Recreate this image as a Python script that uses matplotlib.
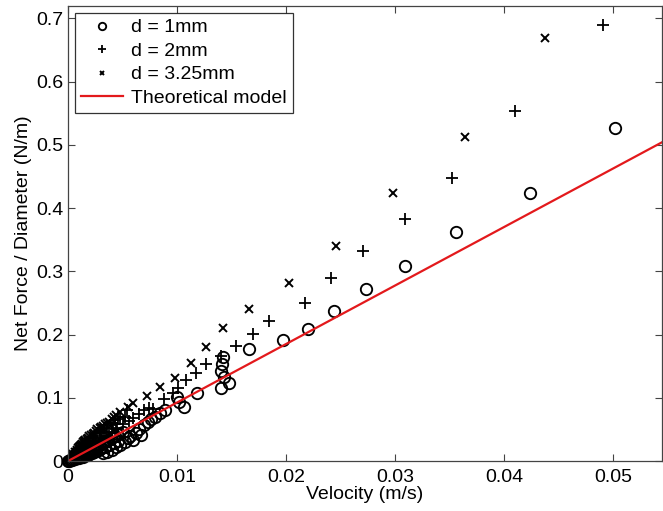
import numpy as np
import matplotlib
matplotlib.use("Agg")
import matplotlib.pyplot as plt

plt.rcParams["font.family"] = ["Liberation Sans", "DejaVu Sans"]

# d = 1mm (circles)
v_1mm = [0.0, 0.0002, 0.0004, 0.0006, 0.0008, 0.0010, 0.0012, 0.0014, 0.0016, 0.0018,
         0.0020, 0.0022, 0.0024, 0.0026, 0.0028, 0.0030, 0.0032, 0.0034, 0.0036, 0.0038,
         0.0040, 0.0042, 0.0044, 0.0046, 0.0048, 0.0050, 0.0052, 0.0055, 0.0057, 0.0060,
         0.0062, 0.0065, 0.0067, 0.0070, 0.0073, 0.0076, 0.0080, 0.0084, 0.0089, 0.0100,
         0.0102, 0.0106, 0.0118, 0.0142, 0.0141, 0.0140, 0.0143, 0.0148, 0.0140, 0.0166,
         0.0197, 0.0220, 0.0244, 0.0273, 0.0309, 0.0356, 0.0424, 0.0502]
f_1mm = [0.0, 0.001, 0.002, 0.003, 0.004, 0.005, 0.006, 0.007, 0.009, 0.010,
         0.012, 0.013, 0.015, 0.016, 0.018, 0.020, 0.012, 0.022, 0.015, 0.025,
         0.018, 0.028, 0.022, 0.032, 0.026, 0.046, 0.030, 0.036, 0.040, 0.033,
         0.045, 0.050, 0.041, 0.057, 0.062, 0.066, 0.070, 0.076, 0.081, 0.101,
         0.093, 0.085, 0.107, 0.164, 0.153, 0.142, 0.133, 0.123, 0.115, 0.177,
         0.191, 0.208, 0.237, 0.272, 0.308, 0.362, 0.423, 0.526]
# extra 1mm runs packed near the origin
v_1mm_low = [0.0001, 0.0003, 0.0005, 0.0007, 0.0009, 0.0011, 0.0013, 0.0015, 0.0017, 0.0019,
             0.0021, 0.0023, 0.0025, 0.0027, 0.0029, 0.0031, 0.0033, 0.0035, 0.0037, 0.0039,
             0.0041, 0.0043, 0.0045]
f_1mm_low = [0.0005, 0.0015, 0.0025, 0.004, 0.006, 0.008, 0.010, 0.012, 0.014, 0.016,
             0.018, 0.020, 0.022, 0.024, 0.026, 0.028, 0.030, 0.032, 0.034, 0.036,
             0.038, 0.040, 0.042]

# d = 2mm (plus)
v_2mm = [0.0, 0.0002, 0.0004, 0.0006, 0.0008, 0.0010, 0.0012, 0.0013, 0.0015, 0.0017,
         0.0018, 0.0020, 0.0022, 0.0024, 0.0026, 0.0029, 0.0030, 0.0033, 0.0035, 0.0039,
         0.0040, 0.0043, 0.0045, 0.0046, 0.0050, 0.0054, 0.0056, 0.0060, 0.0065, 0.0070,
         0.0074, 0.0078, 0.0088, 0.0096, 0.0101, 0.0108, 0.0117, 0.0127, 0.0140, 0.0154,
         0.0170, 0.0184, 0.0217, 0.0241, 0.0271, 0.0309, 0.0352, 0.0410, 0.0491]
f_2mm = [0.0, 0.004, 0.008, 0.012, 0.016, 0.020, 0.024, 0.028, 0.018, 0.030,
         0.022, 0.036, 0.026, 0.040, 0.030, 0.049, 0.034, 0.052, 0.040, 0.060,
         0.046, 0.065, 0.052, 0.070, 0.058, 0.080, 0.064, 0.068, 0.074, 0.080,
         0.084, 0.082, 0.098, 0.107, 0.115, 0.128, 0.139, 0.153, 0.166, 0.182,
         0.201, 0.221, 0.250, 0.289, 0.332, 0.382, 0.447, 0.553, 0.690]
v_2mm_low = [0.0003, 0.0005, 0.0007, 0.0009, 0.0011, 0.0013, 0.0015, 0.0017, 0.0019, 0.0021,
             0.0023, 0.0025, 0.0027, 0.0029, 0.0031, 0.0033, 0.0036, 0.0038, 0.0041, 0.0044,
             0.0048, 0.0052]
f_2mm_low = [0.003, 0.005, 0.007, 0.010, 0.013, 0.015, 0.024, 0.020, 0.032, 0.024,
             0.036, 0.028, 0.044, 0.032, 0.046, 0.036, 0.055, 0.044, 0.058, 0.050,
             0.066, 0.070]

# d = 3.25mm (x)
v_325mm = [0.0, 0.0002, 0.0004, 0.0006, 0.0008, 0.0010, 0.0012, 0.0014, 0.0016, 0.0018,
           0.0021, 0.0024, 0.0027, 0.0030, 0.0034, 0.0038, 0.0042, 0.0048, 0.0055, 0.0060,
           0.0072, 0.0084, 0.0098, 0.0113, 0.0127, 0.0142, 0.0166, 0.0203, 0.0246, 0.0298,
           0.0364, 0.0438]
f_325mm = [0.0, 0.005, 0.009, 0.014, 0.018, 0.022, 0.026, 0.030, 0.033, 0.037,
           0.041, 0.045, 0.050, 0.054, 0.058, 0.062, 0.069, 0.078, 0.085, 0.092,
           0.103, 0.117, 0.131, 0.155, 0.180, 0.210, 0.241, 0.281, 0.340, 0.423,
           0.513, 0.668]
v_325mm_low = [0.0001, 0.0003, 0.0005, 0.0007, 0.0009, 0.0011, 0.0013, 0.0015, 0.0017, 0.0019,
               0.0023, 0.0026, 0.0029, 0.0032, 0.0036, 0.0040, 0.0044]
f_325mm_low = [0.002, 0.006, 0.011, 0.015, 0.020, 0.024, 0.027, 0.031, 0.035, 0.039,
               0.043, 0.047, 0.052, 0.056, 0.060, 0.066, 0.072]

# theoretical model (straight line through origin)
model_v = [0.0, 0.0545]
model_f = [0.0, 0.504]

fig = plt.figure(figsize=(6.63, 5.11), dpi=100)
ax = fig.add_axes([0.1026, 0.0978, 0.896, 0.890])

ax.plot(v_1mm + v_1mm_low, f_1mm + f_1mm_low, ls="none", marker="o", ms=8.2, mfc="none",
        mec="black", mew=1.35, label="d = 1mm", clip_on=False)
ax.plot(v_2mm + v_2mm_low, f_2mm + f_2mm_low, ls="none", marker="+", ms=8, mec="black",
        mew=1.3, label="d = 2mm")
ax.plot(v_325mm + v_325mm_low, f_325mm + f_325mm_low, ls="none", marker="x", ms=5.5,
        mec="black", mew=1.4, label="d = 3.25mm")
ax.plot(model_v, model_f, color="#e3191c", lw=1.6, label="Theoretical model")

ax.set_xlim(0, 0.0545)
ax.set_ylim(0, 0.719)
ax.set_xticks([0, 0.01, 0.02, 0.03, 0.04, 0.05])
ax.set_xticklabels(["0", "0.01", "0.02", "0.03", "0.04", "0.05"])
ax.set_yticks([0, 0.1, 0.2, 0.3, 0.4, 0.5, 0.6, 0.7])
ax.set_yticklabels(["0", "0.1", "0.2", "0.3", "0.4", "0.5", "0.6", "0.7"])
ax.tick_params(direction="in", top=True, right=True, length=5, width=0.8,
               labelsize=14, color="#444444")
ax.tick_params(axis="x", pad=6)
ax.tick_params(axis="y", pad=3.5)
for s in ax.spines.values():
    s.set_color("#444444")
    s.set_linewidth(0.9)

ax.set_xlabel("Velocity (m/s)", fontsize=14, labelpad=0)
ax.set_ylabel("Net Force / Diameter (N/m)", fontsize=14, labelpad=3)

leg = ax.legend(loc="upper left", fontsize=14, markerscale=0.65, handlelength=2.2,
                borderaxespad=0.35, fancybox=False, labelspacing=0.3, handletextpad=0.4,
                borderpad=0.3)
leg.get_frame().set_edgecolor("black")
leg.get_frame().set_linewidth(0.9)

fig.savefig("out.png", dpi=100)
